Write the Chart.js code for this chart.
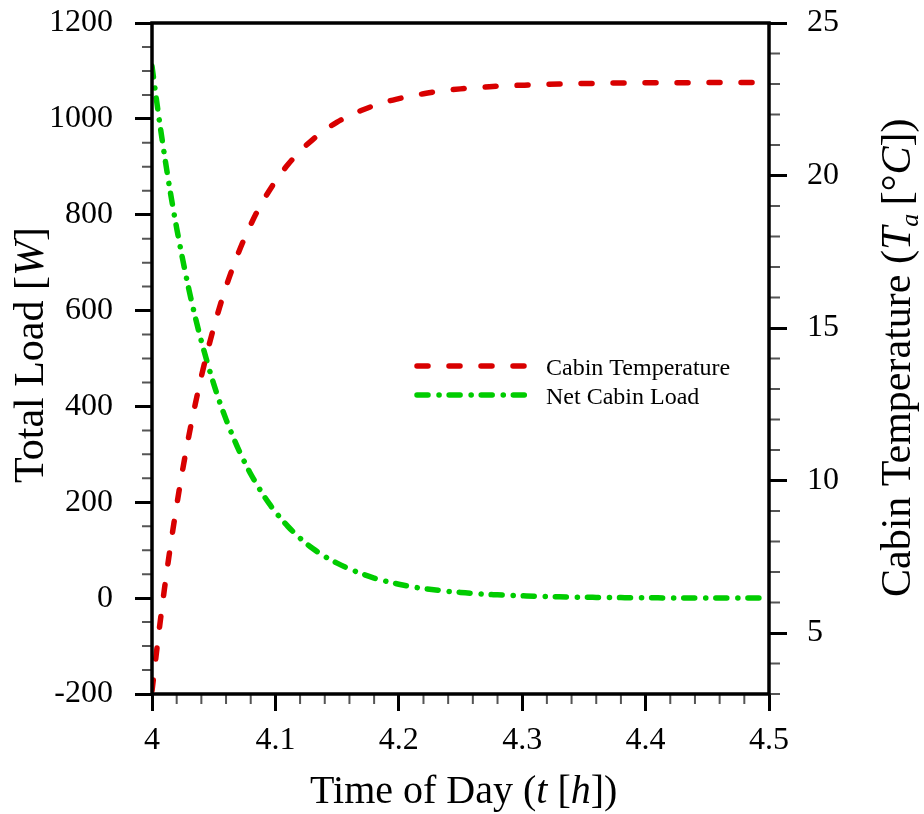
<!DOCTYPE html>
<html>
<head>
<meta charset="utf-8">
<script src="https://cdn.jsdelivr.net/npm/chart.js@4.4.1/dist/chart.umd.min.js"></script>
<style>
body { margin: 0; background: #fff; }
#wrap { width: 924px; height: 814px; }
</style>
</head>
<body>
<div id="wrap"><canvas id="myChart"></canvas></div>
<script>
// time of day [h]
var times = [4, 4.005, 4.01, 4.015, 4.02, 4.025, 4.03, 4.035, 4.04, 4.045, 4.05,
	4.055, 4.06, 4.065, 4.07, 4.075, 4.08, 4.085, 4.09, 4.095, 4.1,
	4.11, 4.12, 4.13, 4.14, 4.15, 4.16, 4.17, 4.18, 4.19, 4.2,
	4.21, 4.22, 4.23, 4.24, 4.25, 4.26, 4.27, 4.28, 4.29, 4.3,
	4.31, 4.32, 4.33, 4.34, 4.35, 4.36, 4.37, 4.38, 4.39, 4.4,
	4.41, 4.42, 4.43, 4.44, 4.45, 4.46, 4.47, 4.48, 4.49, 4.5];

// cabin temperature [C] (right axis)
var cabinTemp = [3.10, 4.83, 6.42, 7.86, 9.18, 10.39, 11.49, 12.49, 13.41, 14.25, 15.01,
	15.71, 16.35, 16.93, 17.46, 17.95, 18.39, 18.80, 19.17, 19.50, 19.81,
	20.35, 20.80, 21.17, 21.49, 21.75, 21.96, 22.14, 22.29, 22.42, 22.52,
	22.61, 22.68, 22.75, 22.80, 22.84, 22.87, 22.90, 22.93, 22.95, 22.96,
	22.98, 22.99, 23.00, 23.01, 23.02, 23.02, 23.03, 23.03, 23.03, 23.04,
	23.04, 23.04, 23.04, 23.04, 23.05, 23.05, 23.05, 23.05, 23.05, 23.05];

// net cabin load [W] (left axis)
var netLoad = [1110, 1014, 926, 845, 772, 705, 643, 587, 536, 490, 447,
	408, 373, 341, 311, 284, 259, 237, 216, 197, 180,
	150, 125, 104, 87, 73, 61, 51, 42, 35, 29,
	24, 20, 17, 14, 12, 10, 8, 7, 6, 5,
	4, 3.3, 2.7, 2.3, 1.9, 1.6, 1.3, 1.1, 0.9, 0.8,
	0.6, 0.5, 0.4, 0.4, 0.3, 0.2, 0.2, 0.2, 0.1, 0.1];

var timeTicks = [4, 4.1, 4.2, 4.3, 4.4, 4.5];
var loadTicks = [-200, 0, 200, 400, 600, 800, 1000, 1200];
var tempTicks = [5, 10, 15, 20, 25];
var timeMinor = 0.02, loadMinor = 50, tempMinor = 1;

var red = '#d80000';
var green = '#00cc00';
var serif = "'Liberation Serif', 'Times New Roman', serif";

Chart.defaults.font.family = serif;
Chart.defaults.color = '#000';

function pts(ys) {
	return times.map(function(t, i) { return { x: t, y: ys[i] }; });
}

function setTicks(list) {
	return function(scale) {
		scale.ticks = list.map(function(v) { return { value: v }; });
	};
}

// fixed axis box sizes, no label overflow padding
function fitTo(w, h) {
	return function(scale) {
		if (w) scale.width = w;
		if (h) scale.height = h;
		scale.paddingTop = 0;
		scale.paddingBottom = 0;
		scale.paddingLeft = 0;
		scale.paddingRight = 0;
	};
}

// draws text made of normal / italic / subscript pieces
function drawRich(ctx, parts, x, y, angle, size) {
	ctx.save();
	ctx.translate(x, y);
	ctx.rotate(angle);
	ctx.textAlign = 'left';
	ctx.textBaseline = 'alphabetic';
	ctx.fillStyle = '#000';
	var cx = 0;
	parts.forEach(function(p) {
		ctx.font = (p.i ? 'italic ' : '') + (p.s || size) + 'px ' + serif;
		ctx.fillText(p.t, cx, p.dy || 0);
		cx += ctx.measureText(p.t).width;
	});
	ctx.restore();
}

function minorTicks(scale, step, major, draw) {
	for (var k = 0; scale.min + k * step <= scale.max + 1e-9; k++) {
		var v = scale.min + k * step;
		if (major.some(function(m) { return Math.abs(m - v) < 1e-6; })) continue;
		draw(scale.getPixelForValue(v));
	}
}

var decor = {
	id: 'decor',
	afterDatasetsDraw: function(chart) {
		var ctx = chart.ctx, a = chart.chartArea;
		var sx = chart.scales.x, sl = chart.scales.yLoad, st = chart.scales.yTemp;
		ctx.save();

		// minor ticks
		ctx.strokeStyle = '#555';
		ctx.lineWidth = 2;
		ctx.beginPath();
		minorTicks(sl, loadMinor, loadTicks, function(p) {
			ctx.moveTo(a.left - 10, p); ctx.lineTo(a.left, p);
		});
		minorTicks(st, tempMinor, tempTicks, function(p) {
			ctx.moveTo(a.right, p); ctx.lineTo(a.right + 11, p);
		});
		minorTicks(sx, timeMinor, timeTicks, function(p) {
			ctx.moveTo(p, a.bottom); ctx.lineTo(p, a.bottom + 10);
		});
		ctx.stroke();

		// frame
		ctx.strokeStyle = '#000';
		ctx.lineWidth = 3.5;
		ctx.strokeRect(a.left, a.top, a.right - a.left, a.bottom - a.top);

		// legend
		var lx = a.left + 262, ly = a.top + 343;
		chart.data.datasets.forEach(function(ds, i) {
			var y = ly + i * 29;
			ctx.strokeStyle = ds.borderColor;
			ctx.lineWidth = ds.borderWidth;
			ctx.lineCap = 'round';
			ctx.setLineDash(ds.borderDash);
			ctx.beginPath();
			ctx.moveTo(lx + 3, y);
			ctx.lineTo(lx + 115, y);
			ctx.stroke();
			ctx.setLineDash([]);
			ctx.fillStyle = '#000';
			ctx.font = '24px ' + serif;
			ctx.textBaseline = 'alphabetic';
			ctx.fillText(ds.label, lx + 132, y + 9);
		});
		ctx.restore();

		// axis titles
		drawRich(ctx, [{ t: 'Total Load [' }, { t: 'W', i: true }, { t: ']' }], 43, 483, -Math.PI / 2, 42);
		drawRich(ctx, [{ t: 'Cabin Temperature (' }, { t: 'T', i: true }, { t: 'a', i: true, s: 26, dy: 8 },
			{ t: '\u2009[\u00B0' }, { t: 'C', i: true }, { t: '])' }], 910, 597, -Math.PI / 2, 42);
		drawRich(ctx, [{ t: 'Time of Day (' }, { t: 't', i: true }, { t: ' [' }, { t: 'h', i: true }, { t: '])' }], 310, 803, 0, 40);
	}
};

var ctx = document.getElementById('myChart').getContext('2d');
var myChart = new Chart(ctx, {
	type: 'line',
	data: {
		datasets: [{
			label: 'Cabin Temperature',
			data: pts(cabinTemp),
			yAxisID: 'yTemp',
			borderColor: red,
			borderWidth: 5.5,
			borderDash: [11, 21],
			borderCapStyle: 'round',
			pointRadius: 0,
			cubicInterpolationMode: 'monotone',
			fill: false
		}, {
			label: 'Net Cabin Load',
			data: pts(netLoad),
			yAxisID: 'yLoad',
			borderColor: green,
			borderWidth: 5.5,
			borderDash: [11, 11, 0.1, 10],
			borderCapStyle: 'round',
			pointRadius: 0,
			cubicInterpolationMode: 'monotone',
			fill: false
		}]
	},
	options: {
		responsive: true,
		maintainAspectRatio: false,
		animation: false,
		layout: { padding: { left: 52, right: 85, top: 23, bottom: 60 } },
		plugins: { legend: { display: false }, tooltip: { enabled: false } },
		scales: {
			x: {
				type: 'linear', min: 4, max: 4.5,
				afterBuildTicks: setTicks(timeTicks),
				afterFit: fitTo(0, 60),
				grid: { display: true, drawOnChartArea: false, tickLength: 17, tickWidth: 3, tickColor: '#000' },
				border: { display: false },
				ticks: { font: { size: 32 }, padding: 10, maxRotation: 0, callback: function(v) { return String(v); } }
			},
			yLoad: {
				type: 'linear', position: 'left', min: -200, max: 1200,
				afterBuildTicks: setTicks(loadTicks),
				afterFit: fitTo(100, 0),
				grid: { display: true, drawOnChartArea: false, tickLength: 17, tickWidth: 3, tickColor: '#000' },
				border: { display: false },
				ticks: { font: { size: 32 }, padding: 22, callback: function(v) { return String(v); } }
			},
			yTemp: {
				type: 'linear', position: 'right', min: 3, max: 25,
				afterBuildTicks: setTicks(tempTicks),
				afterFit: fitTo(70, 0),
				grid: { display: true, drawOnChartArea: false, tickLength: 18, tickWidth: 3, tickColor: '#000' },
				border: { display: false },
				ticks: { font: { size: 32 }, padding: 20, callback: function(v) { return String(v); } }
			}
		}
	},
	plugins: [decor]
});
</script>
</body>
</html>
